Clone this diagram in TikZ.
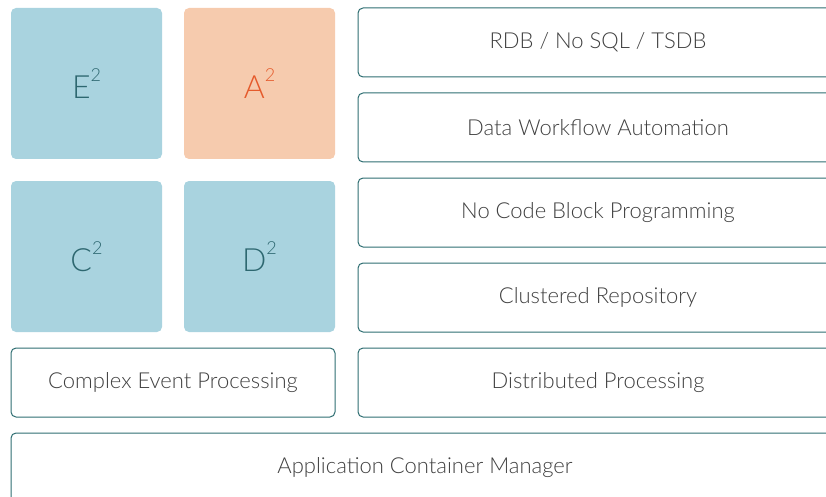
\documentclass[tikz,border=0pt]{standalone}
\usepackage{fontspec}
\setmainfont{Lato}[UprightFont={* Light}]
\usetikzlibrary{positioning}

\definecolor{tileblue}{HTML}{A9D3DF}
\definecolor{tilepeach}{HTML}{F6CBAE}
\definecolor{edgeteal}{HTML}{2F6E72}
\definecolor{tealtext}{HTML}{2D6770}
\definecolor{peachtext}{HTML}{E55A2B}
\definecolor{labelgray}{HTML}{404040}

\newcommand{\sqr}[1]{#1\raisebox{0.55em}{\fontsize{18}{18}\selectfont 2}}

\begin{document}
\begin{tikzpicture}[
    x=1pt, y=-1pt,
    tile/.style={rounded corners=5pt, minimum width=151pt, minimum height=151pt, inner sep=0pt, outer sep=0pt, font=\fontsize{32}{32}\selectfont},
    bluetile/.style={tile, fill=tileblue, text=tealtext},
    peachtile/.style={tile, fill=tilepeach, text=peachtext},
    layer/.style={draw=edgeteal, line width=1pt, rounded corners=5pt, fill=white, minimum height=69pt, inner sep=0pt, outer sep=0pt, text=labelgray, font=\fontsize{22}{22}\selectfont},
    widelayer/.style={layer, minimum width=480pt},
    halflayer/.style={layer, minimum width=324pt},
    baselayer/.style={layer, minimum width=828pt}
  ]
    \useasboundingbox (0,0) rectangle (826,497);
    \clip (0,0) rectangle (826,497);

    % tiles
    \node[bluetile, anchor=north west] (etile) at (11,8) {\sqr{E}};
    \node[peachtile, right=22pt of etile] (atile) {\sqr{A}};
    \node[bluetile, below=22pt of etile] (ctile) {\sqr{C}};
    \node[bluetile, right=22pt of ctile] (dtile) {\sqr{D}};

    % stacked layers on the right
    \node[widelayer, anchor=north west] (rdb) at (358,8) {RDB / No SQL / TSDB};
    \node[widelayer, below=16pt of rdb] (workflow) {Data Workflow Automation};
    \node[widelayer, below=16pt of workflow] (nocode) {No Code Block Programming};
    \node[widelayer, below=16pt of nocode] (repo) {Clustered Repository};
    \node[widelayer, below=16pt of repo] (distproc) {Distributed Processing};

    % bottom rows
    \node[halflayer, below right=16pt and 0pt of ctile.south west] (cep) {Complex Event Processing};
    \node[baselayer, below right=16pt and 0pt of cep.south west] (container) {Application Container Manager};
  \end{tikzpicture}
\end{document}
